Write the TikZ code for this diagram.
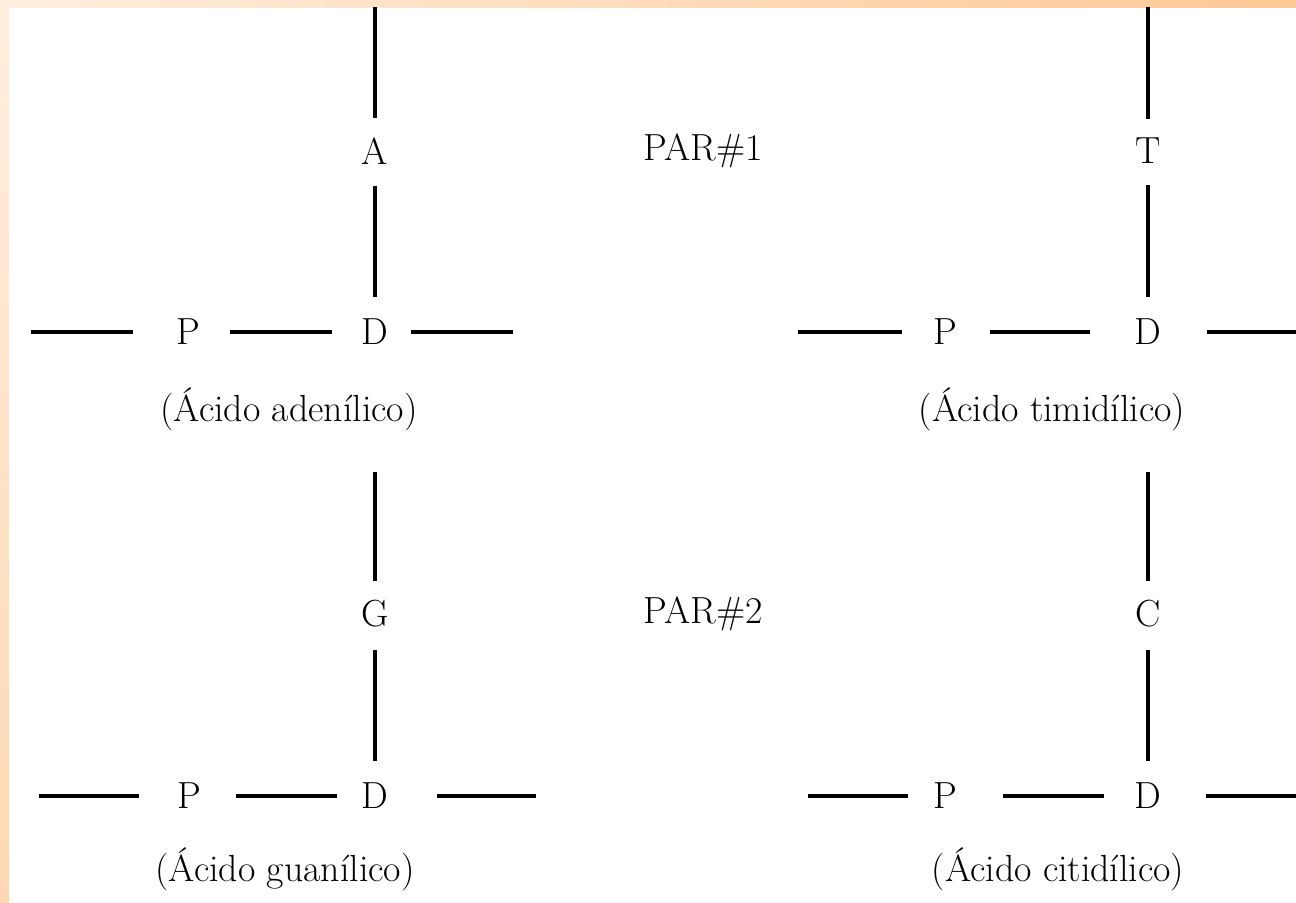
\documentclass[tikz,border=0pt]{standalone}
\usepackage{fontspec}
\usepackage{tikz}
\usetikzlibrary{positioning}
\definecolor{StripLight}{RGB}{255, 238, 222}
\definecolor{StripDark}{RGB}{255, 200, 150}
\definecolor{StripMid}{RGB}{255, 216, 178}

\begin{document}
\begin{tikzpicture}[x=0.02cm, y=-0.02cm, font=\fontsize{21.5}{25}\selectfont, lt/.style={inner sep=0pt}, lab/.style={inner sep=0pt, anchor=base}, bond/.style={line width=2.8pt}]
\useasboundingbox (0,0) rectangle (1296,903);
\fill[white] (0,0) rectangle (1296,903);
\shade[left color=StripLight, right color=StripDark] (0,0) rectangle (1296,7);
\shade[top color=StripLight, bottom color=StripMid] (0,7) rectangle (9,903);
% par 1
\node[lt] (a1) at (375,151) {A};
\node[lt] (t1) at (1148,151) {T};
\node[lt] (par1) at (703,151) {PAR\#1};
\node[lt] (p1) at (188,332) {P};
\node[lt] (d1) at (375,332) {D};
\node[lt] (p3) at (945,332) {P};
\node[lt] (d3) at (1148,332) {D};
\node[lab] (n1) at (289,421) {(Ácido adenílico)};
\node[lab] (n3) at (1052,421) {(Ácido timidílico)};
\coordinate (ta) at (375,7); \coordinate (tt) at (1148,7);
\coordinate (la) at (31,332); \coordinate (ra) at (513,332);
\coordinate (lt1) at (798,332); \coordinate (rt1) at (1300,332);
\draw[bond, shorten >=0.38cm] (ta) -- (a1); \draw[bond, shorten <=0.42cm, shorten >=0.44cm] (a1) -- (d1);
\draw[bond, shorten >=0.38cm] (tt) -- (t1); \draw[bond, shorten <=0.42cm, shorten >=0.44cm] (t1) -- (d3);
\draw[bond, shorten >=0.86cm] (la) -- (p1); \draw[bond, shorten <=0.60cm, shorten >=0.58cm] (p1) -- (d1); \draw[bond, shorten <=0.44cm] (d1) -- (ra);
\draw[bond, shorten >=0.62cm] (lt1) -- (p3); \draw[bond, shorten <=0.66cm, shorten >=0.88cm] (p3) -- (d3); \draw[bond, shorten <=0.90cm] (d3) -- (rt1);
% par 2
\node[lt] (g1) at (375,614) {G};
\node[lt] (c1) at (1148,614) {C};
\node[lt] (par2) at (703,614) {PAR\#2};
\node[lt] (p2) at (189,796) {P};
\node[lt] (d2) at (375,796) {D};
\node[lt] (p4) at (945,796) {P};
\node[lt] (d4) at (1148,796) {D};
\node[lab] (n2) at (285,881) {(Ácido guanílico)};
\node[lab] (n4) at (1058,881) {(Ácido citidílico)};
\coordinate (lg) at (39,796); \coordinate (rg) at (536,796);
\coordinate (lc) at (808,796); \coordinate (rc) at (1300,796);
\draw[bond, shorten <=2.54cm, shorten >=0.38cm] (d1) -- (g1); \draw[bond, shorten <=0.44cm, shorten >=0.44cm] (g1) -- (d2);
\draw[bond, shorten <=2.54cm, shorten >=0.38cm] (d3) -- (c1); \draw[bond, shorten <=0.44cm, shorten >=0.44cm] (c1) -- (d4);
\draw[bond, shorten >=0.76cm] (lg) -- (p2); \draw[bond, shorten <=0.70cm, shorten >=0.48cm] (p2) -- (d2); \draw[bond, shorten <=0.96cm] (d2) -- (rg);
\draw[bond, shorten >=0.50cm] (lc) -- (p4); \draw[bond, shorten <=0.92cm, shorten >=0.60cm] (p4) -- (d4); \draw[bond, shorten <=0.88cm] (d4) -- (rc);
\end{tikzpicture}
\end{document}
